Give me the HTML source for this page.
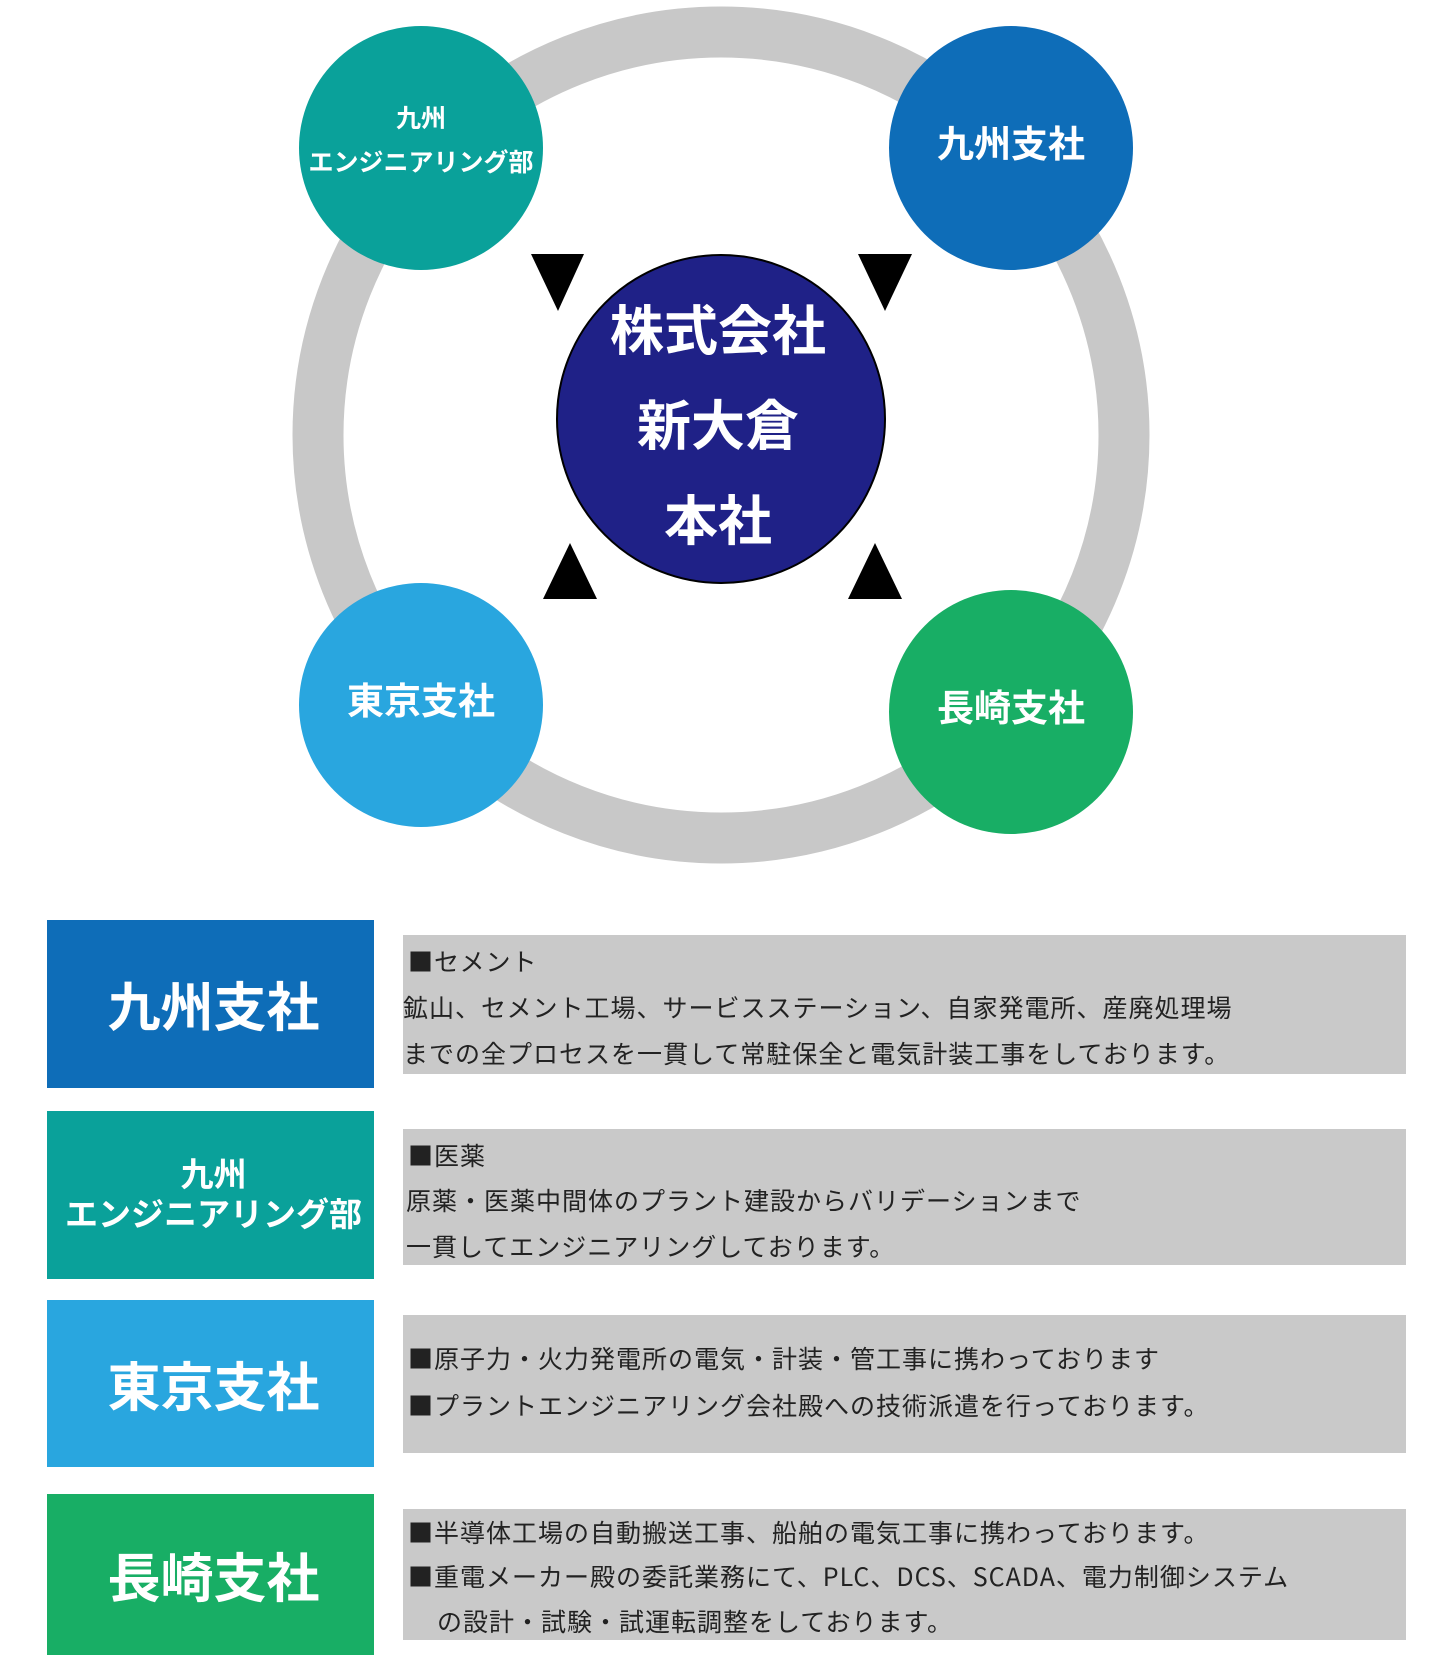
<!DOCTYPE html>
<html><head><meta charset="utf-8"><style>
body{margin:0;width:1440px;height:1655px;background:#fff;position:relative;overflow:hidden;font-family:"Liberation Sans","Noto Sans CJK JP",sans-serif}
.a{position:absolute}
.c{position:absolute;border-radius:50%;display:flex;align-items:center;justify-content:center;flex-direction:column;color:#fff;font-weight:bold;text-align:center;box-sizing:border-box;padding-bottom:14px}
.lb{position:absolute;left:47px;width:327px;display:flex;align-items:center;justify-content:center;flex-direction:column;color:#fff;font-weight:bold;font-size:53px;text-align:center;box-sizing:border-box;padding-left:6px}
.gb{position:absolute;left:403px;width:1003px;background:#c9c9c9}
.t{position:absolute;left:403px;font-size:25px;color:#222;letter-spacing:1px;white-space:nowrap;line-height:30px;font-family:"Noto Sans CJK JP","Liberation Sans",sans-serif}
</style></head><body>
<svg class="a" style="left:0;top:0" width="1440" height="870">
<circle cx="721" cy="435" r="403" fill="none" stroke="#c8c8c8" stroke-width="51"/>
<polygon points="531,254 584,254 558,311" fill="#000"/>
<polygon points="858,254 912,254 885,311" fill="#000"/>
<polygon points="570,543 543,599 597,599" fill="#000"/>
<polygon points="875,543 848,599 902,599" fill="#000"/>
<circle cx="721" cy="419" r="164" fill="#1f2187" stroke="#000" stroke-width="2"/>
</svg>
<div class="c" style="left:299px;top:26px;width:244px;height:244px;background:#0aa19a;font-size:25px;line-height:44px">九州<br>エンジニアリング部</div>
<div class="c" style="left:889px;top:26px;width:244px;height:244px;background:#0e6db8;font-size:37px">九州支社</div>
<div class="c" style="left:299px;top:583px;width:244px;height:244px;background:#29a6df;font-size:37px">東京支社</div>
<div class="c" style="left:889px;top:590px;width:244px;height:244px;background:#18ae65;font-size:37px">長崎支社</div>
<div class="a" style="left:554px;top:285px;width:328px;text-align:center;color:#fff;font-weight:bold;font-size:54px;line-height:95px">株式会社<br>新大倉<br>本社</div>

<div class="lb" style="top:920px;height:168px;background:#0e6db8">九州支社</div>
<div class="lb" style="top:1111px;height:168px;background:#0aa19a;font-size:33px;line-height:40px">九州<br>エンジニアリング部</div>
<div class="lb" style="top:1300px;height:167px;background:#29a6df">東京支社</div>
<div class="lb" style="top:1494px;height:161px;background:#18ae65">長崎支社</div>

<div class="gb" style="top:935px;height:139px"></div>
<div class="gb" style="top:1129px;height:136px"></div>
<div class="gb" style="top:1315px;height:138px"></div>
<div class="gb" style="top:1509px;height:131px"></div>

<div class="t" style="top:946px;left:408px">■セメント</div>
<div class="t" style="top:992px">鉱山、セメント工場、サービスステーション、自家発電所、産廃処理場</div>
<div class="t" style="top:1038px">までの全プロセスを一貫して常駐保全と電気計装工事をしております。</div>
<div class="t" style="top:1140px;left:408px">■医薬</div>
<div class="t" style="top:1185px;left:406px">原薬・医薬中間体のプラント建設からバリデーションまで</div>
<div class="t" style="top:1231px;left:406px">一貫してエンジニアリングしております。</div>
<div class="t" style="top:1343px;left:408px">■原子力・火力発電所の電気・計装・管工事に携わっております</div>
<div class="t" style="top:1390px;left:408px">■プラントエンジニアリング会社殿への技術派遣を行っております。</div>
<div class="t" style="top:1517px;left:408px">■半導体工場の自動搬送工事、船舶の電気工事に携わっております。</div>
<div class="t" style="top:1561px;left:408px">■重電メーカー殿の委託業務にて、PLC、DCS、SCADA、電力制御システム</div>
<div class="t" style="top:1606px;left:437px">の設計・試験・試運転調整をしております。</div>
</body></html>
